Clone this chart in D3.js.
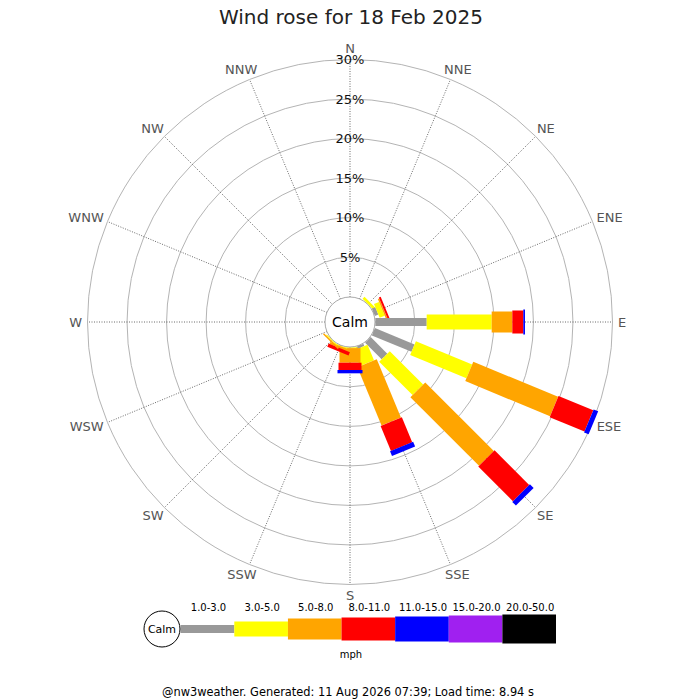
<!DOCTYPE html>
<html>
<head>
<meta charset="utf-8">
<script src="https://cdn.jsdelivr.net/npm/d3@7"></script>
<style>
  body { margin: 0; background: #fff; }
  svg { font-family: "DejaVu Sans", sans-serif; }
</style>
</head>
<body>
<div class="chart"></div>
<script>
// directions, clockwise from north
var directions = ["N", "NNE", "NE", "ENE", "E", "ESE", "SE", "SSE",
                  "S", "SSW", "SW", "WSW", "W", "WNW", "NW", "NNW"];

// speed bins (mph)
var bins = ["1.0-3.0", "3.0-5.0", "5.0-8.0", "8.0-11.0", "11.0-15.0", "15.0-20.0", "20.0-50.0"];
var binColors = ["#999999", "#ffff00", "#ffa500", "#ff0000", "#0000ff", "#a020f0", "#000000"];

// percent of time per direction, one array per speed bin
var speed1to3   = [0, 0, 0,    0.47, 6.50, 5.43, 2.97, 0.30, 0,    0,    0,    0, 0, 0, 0, 0];
var speed3to5   = [0, 0, 0.35, 0.69, 8.22, 7.70, 5.96, 2.14, 0.10, 0.10, 0.12, 0, 0, 0, 0, 0];
var speed5to8   = [0, 0, 0,    0.19, 2.61, 11.61, 12.27, 7.99, 1.85, 0.25, 0.18, 0, 0, 0, 0, 0];
var speed8to11  = [0, 0, 0,    0.25, 1.39, 4.76, 6.20, 3.42, 0.92, 0.45, 0,    0, 0, 0, 0, 0];
var speed11to15 = [0, 0, 0,    0,    0.21, 0.62, 0.66, 0.65, 0.42, 0,    0,    0, 0, 0, 0, 0];
var speed15to20 = [0, 0, 0, 0, 0, 0, 0, 0, 0, 0, 0, 0, 0, 0, 0, 0];
var speed20to50 = [0, 0, 0, 0, 0, 0, 0, 0, 0, 0, 0, 0, 0, 0, 0, 0];

var ringTicks = [5, 10, 15, 20, 25, 30];

var chartTitle = "Wind rose for 18 Feb 2025";
var footerText = "@nw3weather. Generated: 11 Aug 2026 07:39; Load time: 8.94 s";

var series = [speed1to3, speed3to5, speed5to8, speed8to11, speed11to15, speed15to20, speed20to50];

// layout
var width = 700, height = 700,
    cx = 350, cy = 322,
    calmR = 25, outerR = 262.5,
    barWidths = [8, 15, 21, 23, 25, 27, 29];

var svg = d3.select(".chart").append("svg")
  .attr("width", width)
  .attr("height", height);

// radial scale starts at the edge of the calm circle
var r = d3.scaleLinear().domain([0, 30]).range([calmR + 0.3, outerR]);
var angle = d3.scaleLinear().domain([0, directions.length]).range([0, 360]);

svg.append("text")
  .attr("x", 351)
  .attr("y", 24)
  .attr("text-anchor", "middle")
  .style("font-size", "20px")
  .style("fill", "#222")
  .text(chartTitle);

var rose = svg.append("g").attr("transform", "translate(" + cx + "," + cy + ")");

// rings
rose.append("g").selectAll("circle")
  .data(ringTicks)
  .enter().append("circle")
  .attr("r", function (d) { return r(d); })
  .attr("fill", "none")
  .attr("stroke", "#b4b4b4")
  .attr("stroke-width", 1);

// spokes
rose.append("g").selectAll("line")
  .data(directions)
  .enter().append("line")
  .attr("x1", 0).attr("y1", 0)
  .attr("x2", function (d, i) { return outerR * Math.sin(angle(i) * Math.PI / 180); })
  .attr("y2", function (d, i) { return -outerR * Math.cos(angle(i) * Math.PI / 180); })
  .attr("stroke", "#444")
  .attr("stroke-width", 0.8)
  .attr("stroke-dasharray", "1,1.5");

// stacked bars
var stacked = directions.map(function (dir, i) {
  var acc = 0;
  return series.map(function (s, b) {
    var seg = { dir: i, bin: b, p0: acc, p1: acc + s[i] };
    acc += s[i];
    return seg;
  });
});

var dirG = rose.append("g").selectAll("g")
  .data(stacked)
  .enter().append("g")
  .attr("transform", function (d, i) { return "rotate(" + angle(i) + ")"; });

dirG.selectAll("rect")
  .data(function (d) { return d.filter(function (s) { return s.p1 > s.p0; }); })
  .enter().append("rect")
  .attr("x", function (d) { return -barWidths[d.bin] / 2; })
  .attr("width", function (d) { return barWidths[d.bin]; })
  .attr("y", function (d) { return -r(d.p1); })
  .attr("height", function (d) { return r(d.p1) - r(d.p0); })
  .attr("fill", function (d) { return binColors[d.bin]; });

// percent labels on the north spoke
rose.append("g").selectAll("text")
  .data(ringTicks)
  .enter().append("text")
  .attr("x", 0)
  .attr("y", function (d) { return -r(d); })
  .attr("dy", "0.35em")
  .attr("text-anchor", "middle")
  .style("font-size", "13px")
  .style("fill", "#111")
  .text(function (d) { return d + "%"; });

// calm circle
rose.append("circle")
  .attr("r", calmR)
  .attr("fill", "#fff")
  .attr("stroke", "#aaa");
rose.append("text")
  .attr("dy", "0.35em")
  .attr("text-anchor", "middle")
  .style("font-size", "14px")
  .style("fill", "#000")
  .text("Calm");

// direction labels, aligned so the box sits just outside the rose
var labR = 268, capH = 11;
rose.append("g").selectAll("text")
  .data(directions)
  .enter().append("text")
  .style("font-size", "13px")
  .style("fill", "#555")
  .text(function (d) { return d; })
  .each(function (d, i) {
    var a = angle(i) * Math.PI / 180,
        s = Math.sin(a), c = Math.cos(a),
        w = this.getComputedTextLength();
    d3.select(this)
      .attr("x", labR * s - (1 - s) / 2 * w)
      .attr("y", -labR * c - c * capH / 2)
      .attr("dy", "0.36em");
  });

// legend
var lx = d3.scaleLinear().domain([0, bins.length]).range([180.7, 556]),
    ly = 629;

var legend = svg.append("g");
legend.selectAll("rect")
  .data(bins)
  .enter().append("rect")
  .attr("x", function (d, i) { return lx(i); })
  .attr("width", function (d, i) { return lx(i + 1) - lx(i); })
  .attr("y", function (d, i) { return ly - barWidths[i] / 2; })
  .attr("height", function (d, i) { return barWidths[i]; })
  .attr("fill", function (d, i) { return binColors[i]; });

legend.selectAll("text.bin")
  .data(bins)
  .enter().append("text")
  .attr("class", "bin")
  .attr("x", function (d, i) { return (lx(i) + lx(i + 1)) / 2 + 1; })
  .attr("y", 607)
  .attr("dy", "0.35em")
  .attr("text-anchor", "middle")
  .style("font-size", "10px")
  .style("fill", "#000")
  .text(function (d) { return d; });

legend.append("circle")
  .attr("cx", 162).attr("cy", ly).attr("r", 18)
  .attr("fill", "#fff").attr("stroke", "#000");
legend.append("text")
  .attr("x", 162).attr("y", ly).attr("dy", "0.35em")
  .attr("text-anchor", "middle")
  .style("font-size", "11px")
  .text("Calm");

legend.append("text")
  .attr("x", 351).attr("y", 654).attr("dy", "0.35em")
  .attr("text-anchor", "middle")
  .style("font-size", "10px")
  .text("mph");

svg.append("text")
  .attr("x", 348).attr("y", 692).attr("dy", "0.35em")
  .attr("text-anchor", "middle")
  .style("font-size", "11.4px")
  .style("fill", "#000")
  .text(footerText);
</script>
</body>
</html>
